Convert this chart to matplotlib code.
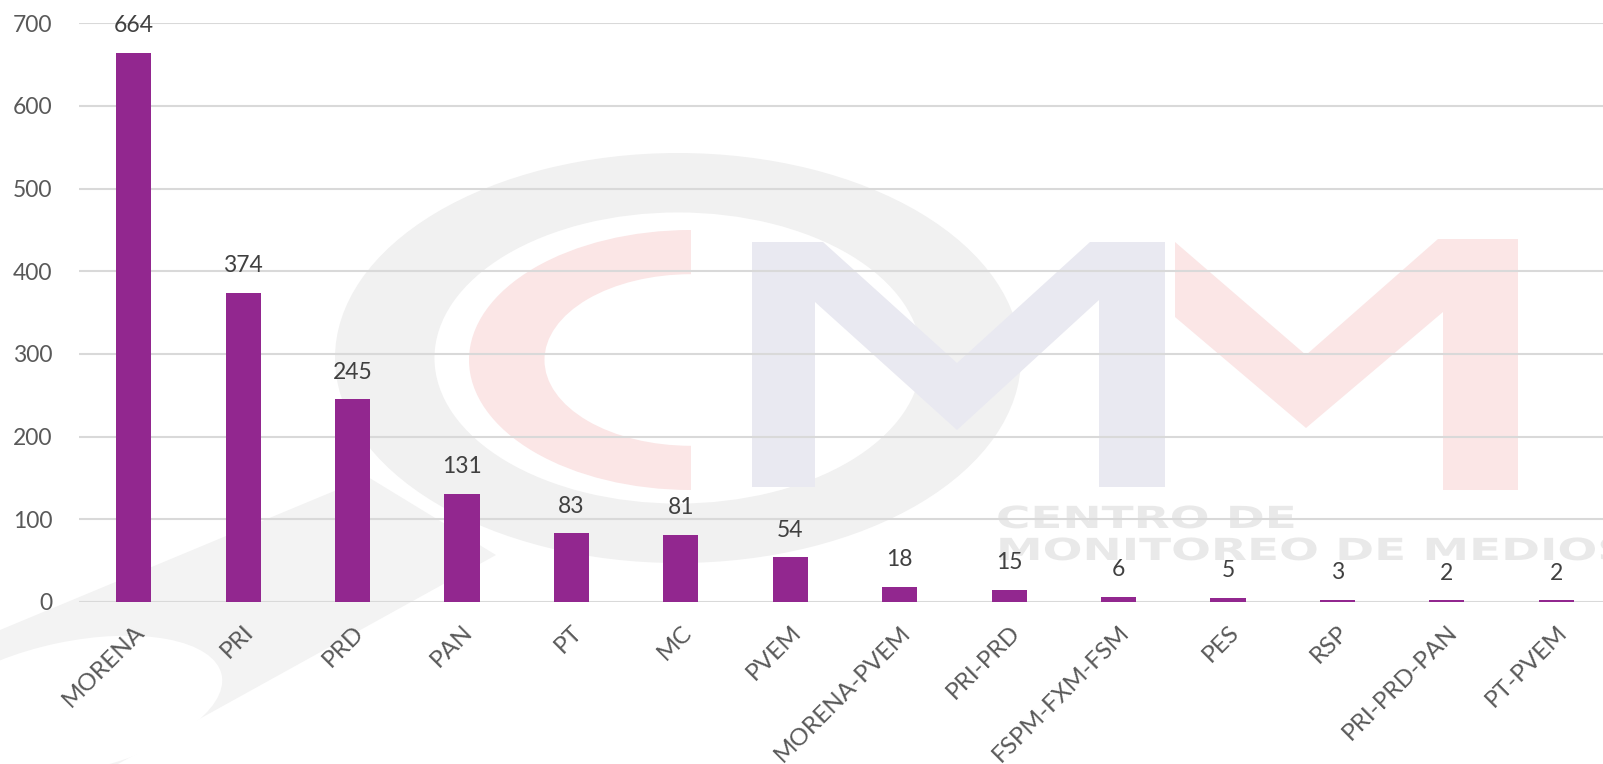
import matplotlib
matplotlib.use('Agg')
import matplotlib.pyplot as plt
from matplotlib.patches import Ellipse, Polygon, Wedge, PathPatch
from matplotlib.textpath import TextPath
from matplotlib.font_manager import FontProperties
from matplotlib.transforms import Affine2D

partidos = ['MORENA', 'PRI', 'PRD', 'PAN', 'PT', 'MC', 'PVEM', 'MORENA-PVEM',
            'PRI-PRD', 'FSPM-FXM-FSM', 'PES', 'RSP', 'PRI-PRD-PAN', 'PT-PVEM']
menciones = [664, 374, 245, 131, 83, 81, 54, 18, 15, 6, 5, 3, 2, 2]
y_ticks = [0, 100, 200, 300, 400, 500, 600, 700]

W, H = 1603, 764
fig = plt.figure(figsize=(W / 100, H / 100), dpi=100)
plt.rcParams['font.family'] = ['Lato', 'DejaVu Sans']

# --- marca de agua CMM (fondo), coordenadas en pixeles ---
bg = fig.add_axes([0, 0, 1, 1])
bg.set_xlim(0, W)
bg.set_ylim(H, 0)
bg.axis('off')


def anillo(cx, cy, rx, ry, t1, t2, ancho, color):
    # anillo eliptico: wedge unitario escalado
    w = Wedge((0, 0), 1, t1, t2, width=ancho, color=color, lw=0)
    w.set_transform(Affine2D().scale(rx, ry).translate(cx, cy) + bg.transData)
    bg.add_patch(w)


# banda diagonal abajo a la izquierda
bg.add_patch(Polygon([(0, 630), (368, 477), (496, 555), (118, 764), (0, 764)],
                     closed=True, color='#F3F3F3', lw=0))
bg.add_patch(Ellipse((70, 707), 310, 130, angle=-12, color='white', lw=0))
# anillo gris
anillo(678, 358, 343, 205, 0, 360, 0.29, '#F1F1F1')
# C rosa
anillo(691, 360, 222, 130, 90, 270, 0.34, '#FBE6E6')
# M lavanda
bg.add_patch(Polygon([(752, 242), (823, 242), (957, 363), (1090, 242), (1165, 242),
                      (1165, 487), (1099, 487), (1099, 300), (957, 430), (815, 302),
                      (815, 487), (752, 487)], closed=True, color='#E9E9F1', lw=0))
# M rosa
bg.add_patch(Polygon([(1175, 242), (1306, 355), (1438, 239), (1518, 239),
                      (1518, 490), (1443, 490), (1443, 312), (1306, 428),
                      (1175, 317)], closed=True, color='#FBE6E6', lw=0))

# texto ancho de la marca de agua
fp = FontProperties(family='DejaVu Sans', weight='bold')
tp1 = TextPath((0, 0), 'CENTRO DE', size=1, prop=fp)
tp2 = TextPath((0, 0), 'MONITOREO DE MEDIOS', size=1, prop=fp)
e1 = tp1.get_extents()
sx = 295 / e1.width
sy = 23 / e1.height
for tp, yb in [(tp1, 528), (tp2, 560)]:
    tr = Affine2D().scale(sx, -sy).translate(996, yb)
    bg.add_patch(PathPatch(tr.transform_path(tp), color='#E9E9E9', lw=0))

# --- grafico principal ---
left, right = 79 / W, 1611 / W
bottom, top = 1 - 602 / H, 1 - 23.3 / H
ax = fig.add_axes([left, bottom, right - left, top - bottom])
ax.set_facecolor('none')

x = range(len(partidos))
ax.bar(x, menciones, width=0.32, color='#92278F', zorder=3)

for xi, v in zip(x, menciones):
    ax.annotate(str(v), (xi, v), xytext=(0, 12), textcoords='offset points',
                ha='center', va='bottom', fontsize=16.5, color='#404040')

ax.set_xlim(-0.5, len(partidos) - 0.5)
ax.set_ylim(0, 700)
ax.set_yticks(y_ticks)
ax.yaxis.grid(True, color='#D9D9D9', lw=1.5, zorder=0)
ax.set_axisbelow(True)
for s in ax.spines.values():
    s.set_visible(False)
ax.tick_params(axis='both', length=0, colors='#595959', labelsize=16.5)
ax.tick_params(axis='y', pad=19)
ax.set_xticks(list(x))
ax.set_xticklabels(partidos, rotation=45, ha='right', rotation_mode='anchor',
                   fontsize=17.5)
ax.tick_params(axis='x', pad=14)

fig.savefig('out.png', dpi=100)
